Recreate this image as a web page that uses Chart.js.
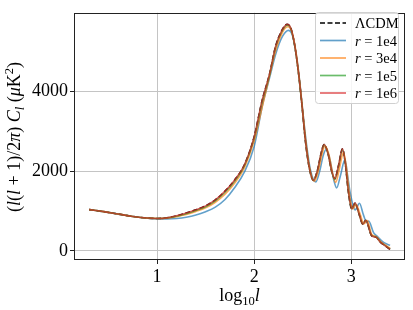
<!DOCTYPE html>
<html>
<head>
<meta charset="utf-8">
<script src="https://cdn.jsdelivr.net/npm/chart.js@4.4.1/dist/chart.umd.min.js"></script>
<style>
  html, body { margin: 0; padding: 0; background: #fff; }
</style>
</head>
<body>
<canvas id="myChart" width="413" height="310"></canvas>
<script>
// log10 l grid shared by LCDM, r=1e5 and r=1e6
const logL = [0.30, 0.45, 0.60, 0.75, 0.90, 1.00, 1.10, 1.20, 1.30, 1.40, 1.50, 1.60, 1.70, 1.80, 1.90,
  2.00, 2.08, 2.16, 2.22, 2.28, 2.34, 2.38, 2.42, 2.46, 2.49, 2.53, 2.57, 2.61, 2.65, 2.69,
  2.72, 2.76, 2.80, 2.83, 2.87, 2.91, 2.94, 2.97, 3.005, 3.04, 3.08, 3.12, 3.15, 3.21, 3.26,
  3.30, 3.35, 3.40];
const clLCDM = [1035, 985, 925, 865, 825, 815, 830, 880, 950, 1030, 1130, 1280, 1500, 1780, 2160,
  2860, 3750, 4450, 5120, 5500, 5680, 5570, 5120, 4400, 3720, 2720, 2060, 1770, 2000, 2450,
  2670, 2450, 1990, 1810, 2150, 2560, 2180, 1500, 1060, 1200, 930, 670, 770, 385, 340,
  220, 130, 40];
const clR1e6 = [1035, 985, 925, 865, 825, 815, 830, 880, 950, 1030, 1130, 1280, 1500, 1780, 2160,
  2860, 3750, 4450, 5120, 5500, 5680, 5570, 5120, 4400, 3720, 2720, 2060, 1770, 2000, 2450,
  2670, 2450, 1990, 1810, 2150, 2560, 2180, 1500, 1060, 1200, 930, 670, 770, 385, 340,
  220, 130, 40];
const clR1e5 = [1035, 985, 925, 865, 824, 814, 828, 870, 935, 1015, 1110, 1255, 1470, 1755, 2140,
  2830, 3720, 4430, 5100, 5480, 5660, 5560, 5110, 4390, 3710, 2720, 2060, 1770, 1990, 2440,
  2660, 2450, 1980, 1790, 2130, 2540, 2180, 1500, 1060, 1190, 930, 670, 770, 390, 345,
  225, 135, 45];

const logLOrange = [0.30, 0.45, 0.60, 0.75, 0.90, 1.00, 1.10, 1.20, 1.30, 1.40, 1.50, 1.60, 1.70, 1.80, 1.90,
  2.00, 2.09, 2.16, 2.22, 2.285, 2.345, 2.39, 2.43, 2.465, 2.495, 2.535, 2.575, 2.62, 2.66, 2.70,
  2.73, 2.77, 2.81, 2.84, 2.88, 2.92, 2.95, 2.98, 3.015, 3.05, 3.09, 3.13, 3.165, 3.21, 3.26,
  3.30, 3.35, 3.40];
const clR3e4 = [1035, 985, 924, 864, 822, 812, 820, 860, 915, 990, 1080, 1220, 1420, 1700, 2090,
  2760, 3680, 4400, 5010, 5450, 5620, 5480, 5000, 4330, 3640, 2700, 2040, 1750, 2000, 2430,
  2630, 2420, 1930, 1720, 2080, 2470, 2100, 1450, 1050, 1160, 940, 680, 760, 420, 360,
  240, 150, 70];

const logLBlue = [0.30, 0.45, 0.60, 0.75, 0.90, 1.00, 1.10, 1.20, 1.30, 1.40, 1.50, 1.60, 1.70, 1.80, 1.90,
  2.00, 2.09, 2.16, 2.22, 2.29, 2.355, 2.40, 2.44, 2.47, 2.50, 2.54, 2.58, 2.635, 2.68, 2.71,
  2.74, 2.78, 2.82, 2.85, 2.89, 2.935, 2.965, 2.99, 3.04, 3.085, 3.125, 3.16, 3.18, 3.23, 3.26,
  3.33, 3.40];
const clR1e4 = [1035, 985, 922, 862, 818, 805, 805, 815, 845, 900, 985, 1100, 1290, 1590, 1980,
  2620, 3700, 4350, 4920, 5370, 5530, 5360, 4820, 4230, 3520, 2660, 2030, 1730, 2050, 2380,
  2540, 2300, 1780, 1580, 1900, 2290, 1850, 1450, 1030, 1195, 910, 710, 750, 460, 385,
  220, 140];

const xTicks = [1, 2, 3];
const yTicks = [0, 2000, 4000];

const SERIF = "'Liberation Serif', 'Times New Roman', serif";

const pts = (xs, ys) => xs.map((x, i) => ({ x: x, y: ys[i] }));

const series = [
  { label: [{ t: "\u039BCDM" }], x: logL, y: clLCDM, color: "#000", dash: [5, 2.5] },
  { label: [{ t: "r", it: true }, { t: " = 1e4" }], x: logLBlue, y: clR1e4, color: "rgba(31,119,180,0.7)" },
  { label: [{ t: "r", it: true }, { t: " = 3e4" }], x: logLOrange, y: clR3e4, color: "rgba(255,127,14,0.7)" },
  { label: [{ t: "r", it: true }, { t: " = 1e5" }], x: logL, y: clR1e5, color: "rgba(44,160,44,0.7)" },
  { label: [{ t: "r", it: true }, { t: " = 1e6" }], x: logL, y: clR1e6, color: "rgba(214,39,40,0.7)" }
];

// rich text: parts with optional italic / sub / sup
const fontFor = (p, size) => {
  const s = p.sub || p.sup ? size * 0.7 : size;
  return (p.it ? "italic " : "") + s + "px " + SERIF;
};
const richWidth = (ctx, parts, size) => parts.reduce((w, p) => {
  ctx.font = fontFor(p, size);
  return w + ctx.measureText(p.t).width;
}, 0);
const drawRich = (ctx, parts, x, y, size) => {
  let cx = x;
  parts.forEach(p => {
    ctx.font = fontFor(p, size);
    let dy = 0;
    if (p.sub) dy = size * 0.22;
    if (p.sup) dy = -size * 0.4;
    ctx.fillText(p.t, cx, y + dy);
    cx += ctx.measureText(p.t).width;
  });
};

const yTitle = [{ t: "(" }, { t: "l", it: true }, { t: "(" }, { t: "l", it: true }, { t: " + 1)/2" },
  { t: "\u03C0", it: true }, { t: ") " }, { t: "C", it: true }, { t: "l", it: true, sub: true },
  { t: " (" }, { t: "\u03BC", it: true }, { t: "K" }, { t: "2", sup: true }, { t: ")" }];
const xTitle = [{ t: "log" }, { t: "10", sub: true }, { t: "l", it: true }];

const decor = {
  id: "decor",
  afterDraw(chart) {
    const ctx = chart.ctx;
    const a = chart.chartArea;
    ctx.save();
    // frame
    ctx.strokeStyle = "#222";
    ctx.lineWidth = 1;
    ctx.strokeRect(Math.round(a.left) + 0.5, Math.round(a.top) + 0.5,
      Math.round(a.right - a.left) - 1, Math.round(a.bottom - a.top) - 1);

    // axis titles
    ctx.fillStyle = "#000";
    ctx.textBaseline = "alphabetic";
    ctx.textAlign = "left";
    const xs = 18;
    const xw = richWidth(ctx, xTitle, xs);
    drawRich(ctx, xTitle, (a.left + a.right) / 2 - xw / 2, 301, xs);

    const ys = 18;
    const yw = richWidth(ctx, yTitle, ys);
    ctx.save();
    ctx.translate(20, 137);
    ctx.rotate(-Math.PI / 2);
    drawRich(ctx, yTitle, -yw / 2, 0, ys);
    ctx.restore();

    // legend
    const bx = 315, by = 12, bw = 83, bh = 91;
    ctx.fillStyle = "rgba(255,255,255,0.85)";
    ctx.strokeStyle = "#d0d0d0";
    ctx.lineWidth = 1;
    ctx.beginPath();
    ctx.roundRect(bx + 0.5, by + 0.5, bw, bh, 3);
    ctx.fill();
    ctx.stroke();
    series.forEach((s, i) => {
      const ry = by + 11 + i * 17.5;
      ctx.strokeStyle = s.color;
      ctx.lineWidth = 1.7;
      ctx.setLineDash(s.dash || []);
      ctx.beginPath();
      ctx.moveTo(320, ry);
      ctx.lineTo(346, ry);
      ctx.stroke();
      ctx.setLineDash([]);
      ctx.fillStyle = "#000";
      drawRich(ctx, s.label, 355, ry + 5, 14.5);
    });
    ctx.restore();
  }
};

const ctx = document.getElementById("myChart").getContext("2d");
new Chart(ctx, {
  type: "line",
  data: {
    datasets: series.map((s, i) => ({
      data: pts(s.x, s.y),
      order: series.length - i,
      borderColor: s.color,
      borderWidth: 1.6,
      borderDash: s.dash || [],
      pointRadius: 0,
      fill: false,
      cubicInterpolationMode: "monotone"
    }))
  },
  options: {
    responsive: false,
    animation: false,
    devicePixelRatio: 1,
    layout: { padding: { top: 6, right: 8, left: 0, bottom: 0 } },
    plugins: { legend: { display: false }, tooltip: { enabled: false } },
    scales: {
      x: {
        type: "linear",
        min: 0.144,
        max: 3.554,
        afterFit: s => { s.height = 50; },
        afterBuildTicks: s => { s.ticks = xTicks.map(v => ({ value: v })); },
        border: { display: false },
        grid: { color: "#c4c4c4", lineWidth: 1, tickColor: "#222", tickLength: 4 },
        ticks: { color: "#000", padding: 2, maxRotation: 0, font: { family: SERIF, size: 18 },
          callback: v => String(v) }
      },
      y: {
        type: "linear",
        min: -227,
        max: 5970,
        afterFit: s => { s.width = 74; },
        afterBuildTicks: s => { s.ticks = yTicks.map(v => ({ value: v })); },
        border: { display: false },
        grid: { color: "#c4c4c4", lineWidth: 1, tickColor: "#222", tickLength: 4 },
        ticks: { color: "#000", padding: 2, font: { family: SERIF, size: 18 },
          callback: v => String(v) }
      }
    }
  },
  plugins: [decor]
});
</script>
</body>
</html>
